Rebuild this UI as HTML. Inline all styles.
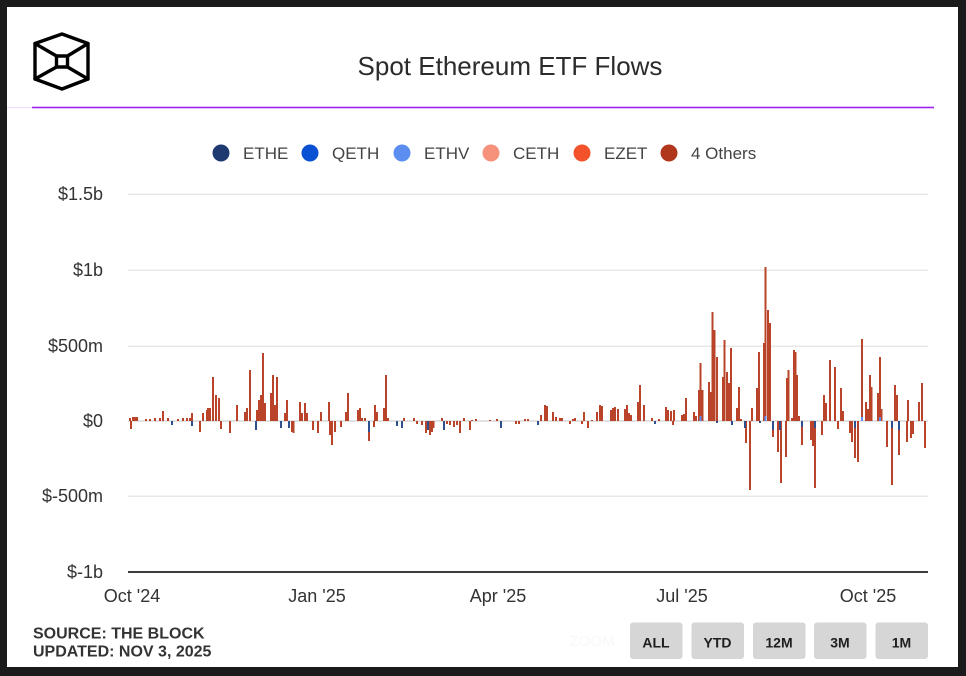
<!DOCTYPE html>
<html><head><meta charset="utf-8"><style>
html,body{margin:0;padding:0;background:#1b1b1b;}
svg{display:block;}
text{font-family:"Liberation Sans",Arial,sans-serif;}
</style></head><body>
<svg width="966" height="676" viewBox="0 0 966 676" xmlns="http://www.w3.org/2000/svg">
<rect width="966" height="676" fill="#1b1b1b"/>
<rect x="7" y="7" width="951" height="660" fill="#ffffff"/>
<!-- logo -->
<g fill="none" stroke="#000" stroke-width="3.4" stroke-linejoin="round" stroke-linecap="round">
<polygon points="62,34 88,43.5 88,79 62,89 35,79 35,43.5"/>
<rect x="56.5" y="56" width="11" height="11"/>
<line x1="35" y1="43.5" x2="56.5" y2="56"/>
<line x1="88" y1="43.5" x2="67.5" y2="56"/>
<line x1="35" y1="79" x2="56.5" y2="67"/>
<line x1="88" y1="79" x2="67.5" y2="67"/>
</g>
<text x="510" y="75" font-size="26" fill="#2b2b2b" text-anchor="middle">Spot Ethereum ETF Flows</text>
<rect x="7" y="107" width="25" height="1" fill="#f1dcff"/>
<rect x="32" y="106.7" width="902" height="1.6" fill="#a020ee"/>
<!-- legend -->
<g font-size="17" fill="#444">
<circle cx="221" cy="153" r="8.5" fill="#1e3a70"/><text x="243" y="159">ETHE</text>
<circle cx="310" cy="153" r="8.5" fill="#0a50d2"/><text x="332" y="159">QETH</text>
<circle cx="402" cy="153" r="8.5" fill="#5b8ef0"/><text x="424" y="159">ETHV</text>
<circle cx="491" cy="153" r="8.5" fill="#f6917b"/><text x="513" y="159">CETH</text>
<circle cx="582" cy="153" r="8.5" fill="#f4522a"/><text x="604" y="159">EZET</text>
<circle cx="669" cy="153" r="8.5" fill="#b0361c"/><text x="691" y="159">4 Others</text>
</g>
<!-- grid -->
<g fill="#e8e8e8">
<rect x="128" y="193.5" width="800" height="1.5"/>
<rect x="128" y="269.5" width="800" height="1.5"/>
<rect x="128" y="345.5" width="800" height="1.5"/>
<rect x="128" y="420" width="800" height="2" fill="#e2e2e2"/>
<rect x="128" y="495.5" width="800" height="1.5"/>
</g>
<rect x="128" y="571" width="800" height="2" fill="#3c3c3c"/>
<g font-size="18" fill="#333" text-anchor="end">
<text x="103" y="200">$1.5b</text>
<text x="103" y="276">$1b</text>
<text x="103" y="352">$500m</text>
<text x="103" y="427">$0</text>
<text x="103" y="502">$-500m</text>
<text x="103" y="578">$-1b</text>
</g>
<g font-size="18" fill="#333" text-anchor="middle">
<text x="132" y="602">Oct '24</text>
<text x="317" y="602">Jan '25</text>
<text x="498" y="602">Apr '25</text>
<text x="682" y="602">Jul '25</text>
<text x="868" y="602">Oct '25</text>
</g>
<!-- bars -->
<path fill="none" stroke="#b9442a" stroke-width="2" d="
M130 418V421M133 417V421M135 417V421M137 417V421M146 419V421M150 419V421M155 418V421M160 418V421M163 411V421M168 418V421M178 419V421M183 418V421M187 418V421M190 418V421M192 413V421M203 413V421M207 410V421M208 408V421M210 408V421M213 377V421M216 395V421M219 398V421M237 405V421M245 412V421M247 408V421M250 370V421M257 410V421M259 400V421M261 395V421M263 353V421M265 403V421M271 393V421M273 375V421M275 405V421M277 377V421M285 413V421M287 400V421M300 402V421M302 413V421M305 403V421M307 413V421M321 412V421M329 402V421M346 412V421M348 393V421M358 410V421M360 408V421M362 418V421M365 418V421M375 405V421M377 412V421M384 408V421M386 375V421M388 418V421M404 418V421M414 418V421M442 418V421M464 418V421M472 420V421M476 419V421M490 420V421M497 419V421M525 419V421M528 419V421M541 415V421M545 405V421M547 406V421M553 412V421M556 417V421M560 418V421M562 418V421M573 419V421M575 418V421M584 412V421M592 420V421M597 412V421M600 405V421M602 406V421M611 410V421M613 408V421M615 407V421M618 409V421M625 409V421M627 405V421M629 413V421M631 415V421M638 402V421M640 385V421M644 405V421M652 418V421M659 419V421M666 407V421M668 410V421M671 411V421M674 410V421M682 415V421M684 414V421M686 398V421M694 412V421M696 416V421M699 390V421M700.5 363V421M702.5 390V421M709 382V421M711 392V421M712.5 312V421M714.5 330V421M717 357V421M723 377V421M724.5 340V421M727 372V421M729 383V421M731 348V421M737 408V421M739 387V421M741 419V421M752 408V421M757 388V421M759 352V421M764 343V421M765.5 267V421M768 310V421M770 323V421M787 378V421M788.5 370V421M792 418V421M794 350V421M795.5 352V421M797 375V421M799 416V421M824 395V421M826 403V421M830 360V421M835 367V421M841 388V421M843 411V421M862 339V421M866 402V421M868 409V421M870 375V421M871.5 387V421M878 393V421M880 357V421M881.5 409V421M895 385V421M897 395V421M908 400V421M919 402V421M922 383V421
M131 421V429M200 421V432M221 421V429M230 421V433M292 421V432M293.5 421V433M313 421V430M318 421V433M330 421V435M332 421V445M335 421V432M341 421V427M369 432V441M374 421V427M417 421V424M422 421V425M426 421V433M430 421V435M432 421V432M433.5 421V428M447 421V424M450 421V425M454 421V427M457 421V425M460 421V433M470 421V430M516 421V424M519 421V424M570 421V424M582 421V424M588 421V428M673 421V425M746 421V443M750 421V490M773 430V437M778 421V452M781 421V483M786 421V457M802 427V445M811 421V440M813 421V446M815 428V488M822 421V435M838 421V429M850 421V433M852 421V442M855 428V458M858 421V462M887 421V447M892 428V485M899 430V455M907 421V442M911 421V438M913 421V434M925 421V448"/>
<path fill="none" stroke="#2f4f8e" stroke-width="2" d="
M172 421V425M192 421V426M256 421V430M281 421V428M289 421V428M369 421V432M397 421V426M402 421V428M428 421V430M444 421V430M501 421V428M538 421V425M655 421V424M732 421V425M745 421V428M773 421V430M780 421V430M802 421V427M815 421V428M855 421V428M892 421V428M899 421V430M717 421V423M760 421V423"/>
<path fill="none" stroke="#5b8ef0" stroke-width="2" d="M700.5 416V421M765.5 416V421M880 417V421M862 417V421"/>
<!-- footer -->
<g font-size="16" font-weight="bold" fill="#333">
<text x="33" y="638.5">SOURCE: THE BLOCK</text>
<text x="33" y="656.5">UPDATED: NOV 3, 2025</text>
</g>
<text x="592" y="646" font-size="15" fill="#f8f8f8" text-anchor="middle">ZOOM</text>
<g fill="#d6d6d6">
<rect x="630" y="622.5" width="52.5" height="36.5" rx="3"/>
<rect x="691.5" y="622.5" width="52.5" height="36.5" rx="3"/>
<rect x="753" y="622.5" width="52.5" height="36.5" rx="3"/>
<rect x="814" y="622.5" width="52.5" height="36.5" rx="3"/>
<rect x="875.5" y="622.5" width="52.5" height="36.5" rx="3"/>
</g>
<g font-size="14" font-weight="bold" fill="#1e1e1e" text-anchor="middle">
<text x="656" y="647.5">ALL</text>
<text x="717.5" y="647.5">YTD</text>
<text x="779" y="647.5">12M</text>
<text x="840" y="647.5">3M</text>
<text x="901.5" y="647.5">1M</text>
</g>
</svg>
</body></html>
